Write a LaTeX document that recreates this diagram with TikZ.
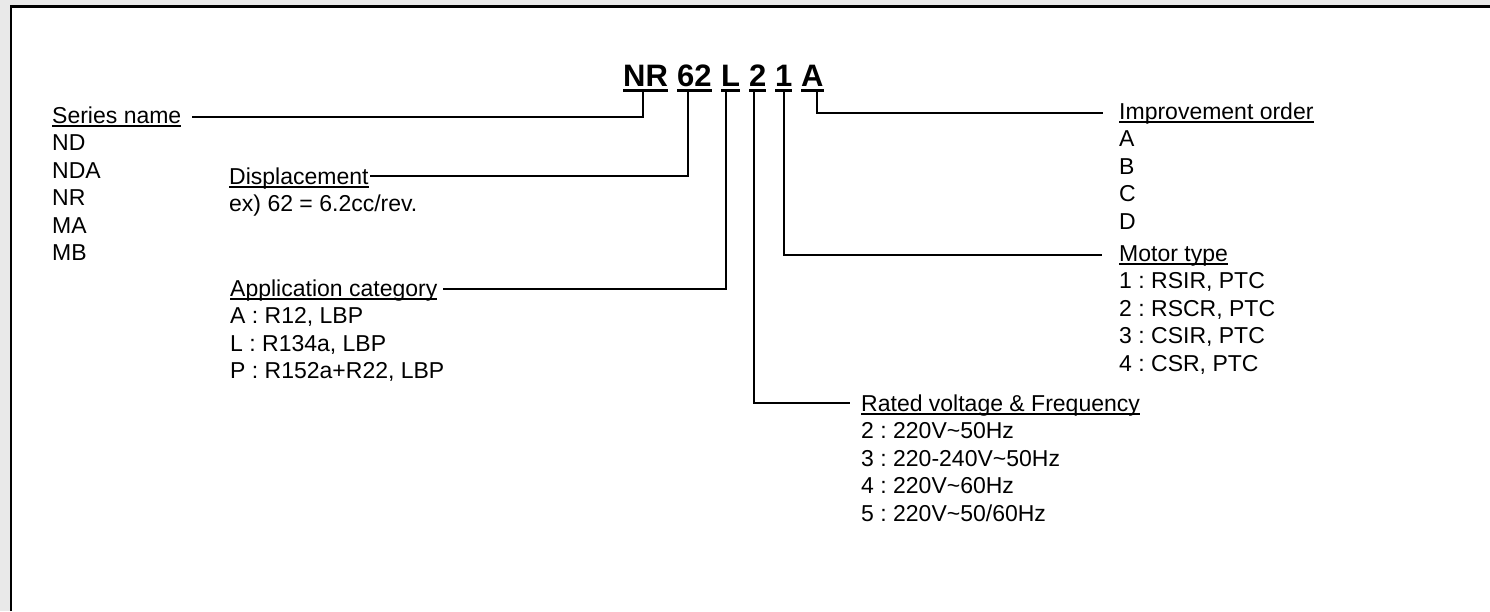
\documentclass[tikz,border=0pt]{standalone}
\usepackage{fontspec}
\setmainfont{Liberation Sans}
\frenchspacing
\definecolor{bandgray}{HTML}{E9E9E9}
\newcommand\ulab[1]{\setbox0\hbox{#1}\rlap{\rule[-3.6pt]{\wd0}{1.6pt}}\box0}
\newcommand\ucode[1]{\setbox0\hbox{#1}\rlap{\rule[-6pt]{\wd0}{2.7pt}}\box0}
\tikzset{
  codepart/.style={anchor=base west, inner sep=0pt, font=\fontsize{31}{36}\selectfont\bfseries},
  label/.style={anchor=base west, inner sep=0pt, align=left, font=\fontsize{23}{27.5}\selectfont\frenchspacing},
  conn/.style={line width=2pt, line join=miter}
}
\begin{document}
\begin{tikzpicture}[x=1pt,y=-1pt]
\useasboundingbox (0,0) rectangle (1490,611);
\fill[bandgray] (0,0) rectangle (1490,611);
\fill[white] (11,7) rectangle (1490,611);
\draw[line width=2.6pt] (10.8,611) -- (10.8,6.5) -- (1490,6.5);

% code
\node[codepart] (nr)  at (623,86) {\ucode{NR}};
\node[codepart] (s62) at (677,86) {\ucode{62}};
\node[codepart] (cL)  at (721,86) {\ucode{L}};
\node[codepart] (c2)  at (749,86) {\ucode{2}};
\node[codepart] (c1)  at (775,86) {\ucode{1}};
\node[codepart] (cA)  at (801,86) {\ucode{A}};

% labels (base anchor = baseline of last line)
\node[label] (series) at (52,260.5) {\ulab{Series name}\\ND\\NDA\\NR\\MA\\MB};
\node[label] (disp) at (229,211.5) {\ulab{Displacement}\\ex) 62 = 6.2cc/rev.};
\node[label] (app) at (230,378.5) {\ulab{Application category}\\A : R12, LBP\\L : R134a, LBP\\P : R152a+R22, LBP};
\node[label] (impr) at (1119,229) {\ulab{Improvement order}\\A\\B\\C\\D};
\node[label] (motor) at (1119,371) {\ulab{Motor type}\\1 : RSIR, PTC\\2 : RSCR, PTC\\3 : CSIR, PTC\\4 : CSR, PTC};
\node[label] (rated) at (861,521) {\ulab{Rated voltage \& Frequency}\\2 : 220V\textasciitilde50Hz\\3 : 220-240V\textasciitilde50Hz\\4 : 220V\textasciitilde60Hz\\5 : 220V\textasciitilde50/60Hz};

% connector ends
\coordinate (e-series) at (192,117);
\coordinate (e-disp) at (370,176);
\coordinate (e-app) at (443,289);
\coordinate (e-rated) at (850,403);
\coordinate (e-motor) at (1102,255);
\coordinate (e-impr) at (1103,113);

\draw[conn] ([xshift=-2.5pt]nr.south) |- (e-series);
\draw[conn] ([xshift=-6pt]s62.south) |- (e-disp);
\draw[conn] ([xshift=-5pt]cL.south) |- (e-app);
\draw[conn] ([xshift=-4pt]c2.south) |- (e-rated);
\draw[conn] (c1.south) |- (e-motor);
\draw[conn] ([xshift=5pt]cA.south) |- (e-impr);
\end{tikzpicture}
\end{document}
